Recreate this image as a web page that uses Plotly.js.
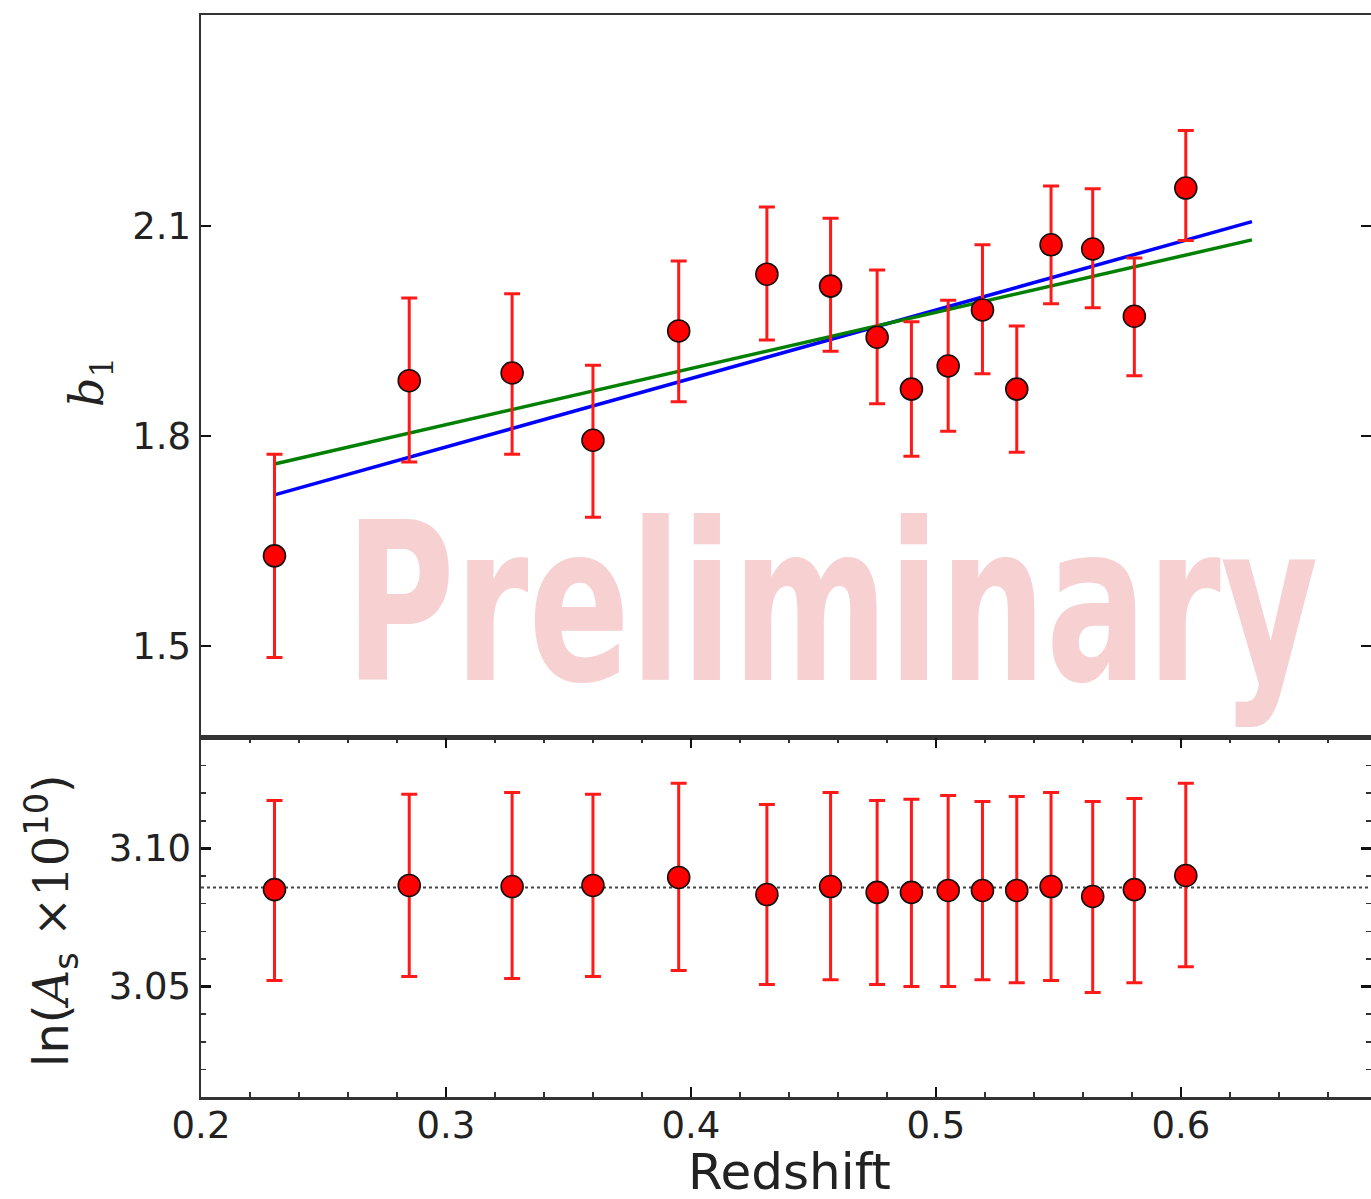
<!DOCTYPE html>
<html>
<head>
<meta charset="utf-8">
<script src="https://cdn.plot.ly/plotly-3.0.1.min.js"></script>
<style>
  html, body { margin: 0; padding: 0; background: #fff; }
  #chart { width: 1371px; height: 1199px; }
</style>
</head>
<body>
<div id="chart"></div>
<script>
// ---- data ----
const redshift = [0.230, 0.285, 0.327, 0.360, 0.395, 0.431, 0.457, 0.476, 0.490, 0.505, 0.519, 0.533, 0.547, 0.564, 0.581, 0.602];

const b1       = [1.629, 1.879, 1.890, 1.794, 1.950, 2.031, 2.014, 1.941, 1.867, 1.900, 1.980, 1.867, 2.073, 2.067, 1.971, 2.154];
const b1Upper  = [1.774, 1.997, 2.003, 1.901, 2.050, 2.127, 2.111, 2.037, 1.963, 1.994, 2.073, 1.957, 2.157, 2.153, 2.054, 2.236];
const b1Lower  = [1.484, 1.763, 1.774, 1.684, 1.849, 1.937, 1.921, 1.846, 1.771, 1.807, 1.889, 1.777, 1.989, 1.983, 1.886, 2.079];

const lnAs      = [3.0851, 3.0866, 3.0862, 3.0866, 3.0895, 3.0833, 3.0862, 3.0841, 3.0841, 3.0848, 3.0848, 3.0848, 3.0862, 3.0826, 3.0851, 3.0902];
const lnAsUpper = [3.1174, 3.1196, 3.1203, 3.1196, 3.1236, 3.1159, 3.1203, 3.1174, 3.1178, 3.1192, 3.1170, 3.1188, 3.1203, 3.1170, 3.1181, 3.1236];
const lnAsLower = [3.0522, 3.0536, 3.0529, 3.0536, 3.0558, 3.0507, 3.0525, 3.0507, 3.0500, 3.0500, 3.0525, 3.0514, 3.0522, 3.0478, 3.0514, 3.0572];

const fitZ      = [0.230, 0.629];
const blueFit   = [1.716, 2.106];
const greenFit  = [1.760, 2.080];

const fiducialLnAs = 3.0859;

const xTickVals = [0.2, 0.3, 0.4, 0.5, 0.6];
const xTickText = ['0.2', '0.3', '0.4', '0.5', '0.6'];
const b1TickVals = [1.5, 1.8, 2.1];
const b1TickText = ['1.5', '1.8', '2.1'];
const asTickVals = [3.05, 3.10];
const asTickText = ['3.05', '3.10'];

// ---- build ----
const diff = (a, b) => a.map((v, i) => v - b[i]);

const markerStyle = { color: '#ff0000', size: 22, line: { color: '#111', width: 1.6 } };

function errY(upper, lower, val) {
  return {
    type: 'data', symmetric: false,
    array: diff(upper, val), arrayminus: diff(val, lower),
    color: '#ff1a1a', thickness: 3, width: 8
  };
}

const traces = [
  { x: fitZ, y: blueFit, mode: 'lines', line: { color: '#0000ff', width: 3.5 }, xaxis: 'x', yaxis: 'y', hoverinfo: 'skip' },
  { x: fitZ, y: greenFit, mode: 'lines', line: { color: '#008000', width: 3.5 }, xaxis: 'x', yaxis: 'y', hoverinfo: 'skip' },
  { x: redshift, y: b1, mode: 'markers', marker: markerStyle, error_y: errY(b1Upper, b1Lower, b1), xaxis: 'x', yaxis: 'y' },
  { x: redshift, y: lnAs, mode: 'markers', marker: markerStyle, error_y: errY(lnAsUpper, lnAsLower, lnAs), xaxis: 'x2', yaxis: 'y2' }
];

const axisFont = { family: 'DejaVu Sans, sans-serif', size: 37, color: '#222' };
const lineCol = '#333';

const layout = {
  width: 1371, height: 1199,
  margin: { l: 201, r: 0, t: 15, b: 102 },
  paper_bgcolor: '#fff', plot_bgcolor: '#fff',
  showlegend: false,
  xaxis: {
    domain: [0, 1], anchor: 'y', range: [0.2, 0.6776],
    showgrid: false, zeroline: false, showticklabels: false, ticks: '',
    showline: true, linecolor: lineCol, linewidth: 2.5, mirror: true
  },
  yaxis: {
    domain: [0.3318, 1], anchor: 'x', range: [1.369, 2.401],
    tickvals: b1TickVals, ticktext: b1TickText,
    showgrid: false, zeroline: false, ticks: 'inside', ticklen: 10, tickwidth: 2.5, tickcolor: '#111',
    showline: true, linecolor: lineCol, linewidth: 2.5, mirror: 'ticks',
    tickfont: axisFont, ticklabelstandoff: 0
  },
  xaxis2: {
    domain: [0, 1], anchor: 'y2', range: [0.2, 0.6776],
    tickvals: xTickVals, ticktext: xTickText,
    showgrid: false, zeroline: false, ticks: 'inside', ticklen: 10, tickwidth: 2.5, tickcolor: '#111',
    minor: { dtick: 0.02, tick0: 0.2, ticks: 'inside', ticklen: 5, tickwidth: 1.5, tickcolor: '#333', showgrid: false },
    showline: true, linecolor: lineCol, linewidth: 2.5, mirror: 'ticks',
    tickfont: axisFont, ticklabelstandoff: -6
  },
  yaxis2: {
    domain: [0, 0.3318], anchor: 'x2', range: [3.010, 3.140],
    tickvals: asTickVals, ticktext: asTickText,
    showgrid: false, zeroline: false, ticks: 'inside', ticklen: 10, tickwidth: 2.5, tickcolor: '#111',
    minor: { dtick: 0.01, tick0: 3.0, ticks: 'inside', ticklen: 5, tickwidth: 1.5, tickcolor: '#333', showgrid: false },
    showline: true, linecolor: lineCol, linewidth: 2.5, mirror: 'ticks',
    tickfont: axisFont, ticklabelstandoff: 0
  },
  shapes: [
    { type: 'line', xref: 'x2 domain', yref: 'y2', x0: 0, x1: 1, y0: fiducialLnAs, y1: fiducialLnAs,
      line: { color: '#444', width: 2, dash: 'dot' }, layer: 'below' }
  ],
  annotations: [
    { text: 'Preliminary', xref: 'paper', yref: 'paper', x: 0.5385, y: 0.4555, xanchor: 'center', yanchor: 'middle',
      showarrow: false,
      font: { family: 'DejaVu Sans, sans-serif', size: 220, color: '#f7d0d2', weight: 'bold' } },
    { text: 'Redshift', xref: 'paper', yref: 'paper', x: 0.5026, y: -0.0690, xanchor: 'center', yanchor: 'middle',
      showarrow: false, font: { family: 'DejaVu Sans, sans-serif', size: 50, color: '#222' } },
    { text: '<i>b</i><sub>1</sub>', xref: 'paper', yref: 'paper', x: -0.0949, y: 0.6608, xanchor: 'center', yanchor: 'middle',
      textangle: -90, showarrow: false, font: { family: 'DejaVu Serif, serif', size: 46, color: '#222' } },
    { text: 'ln(<span style="font-family:\'DejaVu Serif\', serif"><i>A</i></span><sub>s</sub> <span style="font-family:\'DejaVu Serif\', serif">×10</span><sup>10</sup>)',
      xref: 'paper', yref: 'paper', x: -0.1274, y: 0.1636, xanchor: 'center', yanchor: 'middle',
      textangle: -90, showarrow: false, font: { family: 'DejaVu Sans, sans-serif', size: 48, color: '#222' } }
  ]
};

// Watermark target width in pixels (reference uses a condensed heavy face)
const watermarkWidth = 973;

Plotly.newPlot('chart', traces, layout, { displayModeBar: false, staticPlot: true }).then(gd => {
  const txt = gd.querySelector('.annotation[data-index="0"] .annotation-text');
  if (!txt) return;
  const bb = txt.getBBox();
  const cx = bb.x + bb.width / 2;
  const s = watermarkWidth / bb.width;
  const prev = txt.getAttribute('transform') || '';
  txt.setAttribute('transform', prev + ' translate(' + cx + ',0) scale(' + s + ',1) translate(' + (-cx) + ',0)');
});
</script>
</body>
</html>
